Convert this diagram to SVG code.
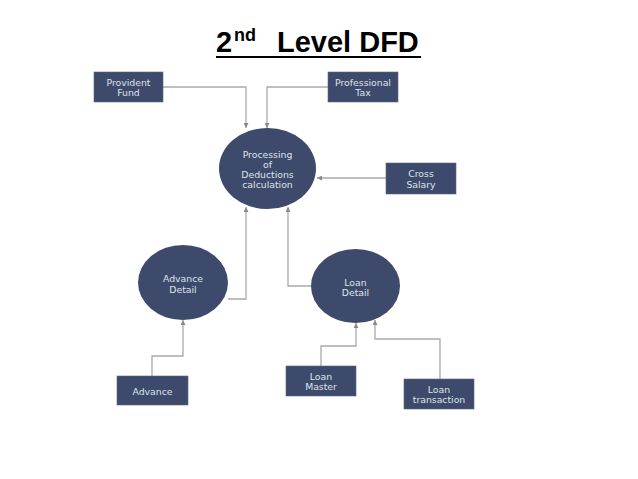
<svg xmlns="http://www.w3.org/2000/svg" width="638" height="479" viewBox="0 0 638 479">
<style>
.box{fill:#3d4a6b;stroke:#5a6584;stroke-width:0.6}
.proc{fill:#3d4a6b}
.lbl{font-family:"DejaVu Sans",Verdana,sans-serif;font-size:9.3px;fill:#dfe3ec;text-anchor:middle}
.flow{fill:none;stroke:#a9a9a9;stroke-width:1.3}
.title{font-family:"Liberation Sans",Arial,sans-serif;font-weight:bold;font-size:29px;fill:#000}
.sup{font-size:18px}
</style>
<defs>
<marker id="arr" viewBox="0 0 6 6" refX="6" refY="3" markerWidth="5" markerHeight="5" orient="auto" markerUnits="userSpaceOnUse">
<path d="M0,0 L6,3 L0,6 z" fill="#8a8a8a"/>
</marker>
</defs>
<rect width="638" height="479" fill="#ffffff"/>
<g id="title">
<text x="216" y="52" class="title">2</text>
<text x="234" y="41" class="title sup">nd</text>
<text x="277" y="52" class="title">Level DFD</text>
<line x1="216" y1="57" x2="421" y2="57" stroke="#000" stroke-width="2"/>
</g>
<g id="connectors">
<polyline class="flow" points="163,87 246,87 246,128" marker-end="url(#arr)"/>
<polyline class="flow" points="328,87 267,87 267,128" marker-end="url(#arr)"/>
<polyline class="flow" points="386,178 317,178" marker-end="url(#arr)"/>
<polyline class="flow" points="228,299 246,299 246,207" marker-end="url(#arr)"/>
<polyline class="flow" points="311,286 288,286 288,207" marker-end="url(#arr)"/>
<polyline class="flow" points="152,376 152,356 183,356 183,320" marker-end="url(#arr)"/>
<polyline class="flow" points="321,366 321,346 356,346 356,323" marker-end="url(#arr)"/>
<polyline class="flow" points="440,379 440,339 375,339 375,320" marker-end="url(#arr)"/>
</g>
<g id="provident-fund">
<rect class="box" x="94" y="72" width="69" height="30"/>
<text class="lbl" x="128.5" y="85.5">Provident</text>
<text class="lbl" x="128.5" y="95.5">Fund</text>
</g>
<g id="professional-tax">
<rect class="box" x="328" y="72" width="70" height="30"/>
<text class="lbl" x="363" y="85.5">Professional</text>
<text class="lbl" x="363" y="95.5">Tax</text>
</g>
<g id="cross-salary">
<rect class="box" x="386" y="163" width="70" height="31"/>
<text class="lbl" x="421" y="176.5">Cross</text>
<text class="lbl" x="421" y="187.5">Salary</text>
</g>
<g id="processing">
<ellipse class="proc" cx="267.5" cy="168.5" rx="48.5" ry="40.5"/>
<text class="lbl" x="267.5" y="157.5">Processing</text>
<text class="lbl" x="267.5" y="167.5">of</text>
<text class="lbl" x="267.5" y="177.5">Deductions</text>
<text class="lbl" x="267.5" y="187.5">calculation</text>
</g>
<g id="advance-detail">
<ellipse class="proc" cx="183" cy="282.5" rx="45" ry="37.5"/>
<text class="lbl" x="183" y="281.5">Advance</text>
<text class="lbl" x="183" y="292.5">Detail</text>
</g>
<g id="loan-detail">
<ellipse class="proc" cx="355.5" cy="286" rx="44.5" ry="37"/>
<text class="lbl" x="355.5" y="285.5">Loan</text>
<text class="lbl" x="355.5" y="295.5">Detail</text>
</g>
<g id="advance">
<rect class="box" x="117" y="376" width="71" height="29"/>
<text class="lbl" x="152.5" y="394.5">Advance</text>
</g>
<g id="loan-master">
<rect class="box" x="286" y="366" width="70" height="30"/>
<text class="lbl" x="321" y="379.5">Loan</text>
<text class="lbl" x="321" y="389.5">Master</text>
</g>
<g id="loan-transaction">
<rect class="box" x="404" y="379" width="70" height="30"/>
<text class="lbl" x="439" y="392.5">Loan</text>
<text class="lbl" x="439" y="402.5">transaction</text>
</g>
</svg>
